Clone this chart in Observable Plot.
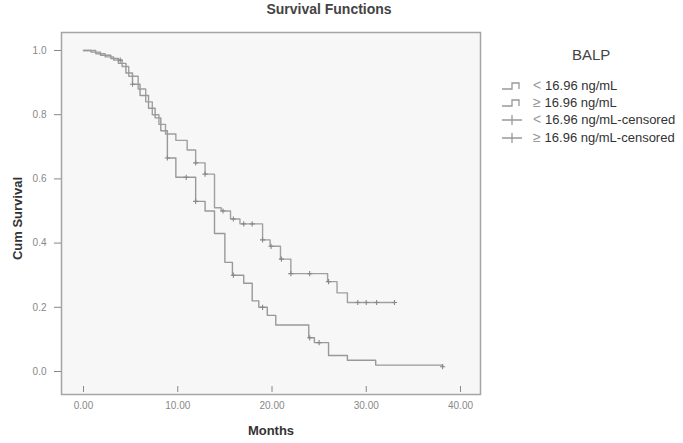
<!DOCTYPE html>
<html><head><meta charset="utf-8">
<script src="https://cdn.jsdelivr.net/npm/d3@7"></script>
<script src="https://cdn.jsdelivr.net/npm/@observablehq/plot@0.6"></script>
<style>
body{margin:0;background:#fff;font-family:"Liberation Sans",Arial,sans-serif;}
#wrap{position:relative;width:683px;height:443px;overflow:hidden;}
#title{position:absolute;left:13px;width:632px;top:0;text-align:center;font-weight:bold;font-size:14px;color:#444;line-height:18px;}
#legend{position:absolute;left:0;top:0;width:683px;height:443px;pointer-events:none;}
.lt{position:absolute;font-size:13px;color:#333;white-space:nowrap;line-height:15px;}
.lt .op{color:#999;font-size:14px;}
#balp{position:absolute;left:572px;top:47px;font-size:15px;color:#444;line-height:16px;}
#chart{position:absolute;left:0;top:0;}
</style></head>
<body>
<div id="wrap">
  <div id="chart"></div>
  <div id="title">Survival Functions</div>
  <div id="legend"></div>
</div>
<script>
// Group "< 16.96 ng/mL" (upper curve)
const timeA = [0, 1.3, 2.3, 3.2, 4.1, 4.8, 5.8, 6.6, 7.3, 8.0, 8.7, 9.8, 11.0, 11.9, 12.9, 13.9, 14.6, 15.6, 16.6, 19.0, 19.8, 20.9, 22.0, 25.9, 26.9, 28.0, 33.0];
const survA = [1.0, 0.99, 0.98, 0.97, 0.95, 0.92, 0.88, 0.84, 0.80, 0.77, 0.74, 0.72, 0.69, 0.65, 0.615, 0.51, 0.50, 0.475, 0.46, 0.41, 0.39, 0.35, 0.305, 0.28, 0.245, 0.215, 0.215];
const censorTimeA = [3.9, 11.9, 12.9, 14.8, 15.9, 17.0, 17.9, 19.0, 19.9, 21.0, 22.0, 24.0, 26.0, 29.1, 30.0, 31.1, 33.0];
// Group "≥ 16.96 ng/mL" (lower curve)
const timeB = [0, 0.8, 1.8, 2.9, 3.7, 4.5, 5.2, 6.0, 6.9, 7.6, 8.2, 8.9, 9.8, 11.9, 12.9, 13.9, 15.0, 15.8, 17.0, 17.9, 18.6, 19.5, 20.4, 23.9, 24.5, 26.0, 28.0, 31.0, 38.1];
const survB = [1.0, 0.995, 0.985, 0.975, 0.96, 0.93, 0.895, 0.86, 0.82, 0.79, 0.75, 0.665, 0.605, 0.53, 0.50, 0.43, 0.34, 0.30, 0.275, 0.22, 0.20, 0.175, 0.145, 0.105, 0.09, 0.05, 0.035, 0.02, 0.015];
const censorTimeB = [5.2, 8.9, 10.9, 11.9, 15.9, 19.0, 24.0, 25.0, 38.1];

const xTicks = [0, 10, 20, 30, 40];
const yTicks = [0, 0.2, 0.4, 0.6, 0.8, 1.0];
const groups = ["< 16.96 ng/mL", "≥ 16.96 ng/mL"];

function stepAt(times, surv, t) {
  let v = surv[0];
  for (let i = 0; i < times.length; i++) if (times[i] <= t) v = surv[i];
  return v;
}
const lineA = timeA.map((t, i) => ({t, s: survA[i]}));
const lineB = timeB.map((t, i) => ({t, s: survB[i]}));
const censA = censorTimeA.map(t => ({t, s: stepAt(timeA, survA, t)}));
const censB = censorTimeB.map(t => ({t, s: stepAt(timeB, survB, t)}));

const chart = Plot.plot({
  width: 683, height: 443,
  marginLeft: 61, marginRight: 203, marginTop: 32, marginBottom: 57,
  style: {background: "transparent", fontFamily: "Liberation Sans, Arial, sans-serif", fontSize: "10px", color: "#888"},
  x: {domain: [0, 40], range: [83, 460]},
  y: {domain: [0, 1], range: [371, 50]},
  marks: [
    Plot.frame({fill: "#f7f7f7", stroke: "#a5a5a5", strokeWidth: 1.5, insetBottom: -8}),
    Plot.axisX({ticks: xTicks, tickFormat: d => d.toFixed(2), tickSize: 6, tickPadding: 9, label: null}),
    Plot.axisY({ticks: yTicks, tickFormat: d => d.toFixed(1), tickSize: 7, tickPadding: 8, label: null}),
    Plot.line(lineA, {x: "t", y: "s", curve: "step-after", stroke: "#a0a0a0", strokeWidth: 1.4}),
    Plot.line(lineB, {x: "t", y: "s", curve: "step-after", stroke: "#999", strokeWidth: 1.4}),
    Plot.dot(censA, {x: "t", y: "s", symbol: "plus", r: 1.8, stroke: "#888", strokeWidth: 1.1}),
    Plot.dot(censB, {x: "t", y: "s", symbol: "plus", r: 1.8, stroke: "#888", strokeWidth: 1.1}),
    Plot.text(["Cum Survival"], {frameAnchor: "left", textAnchor: "middle", dx: -44, dy: 9, rotate: -90, fill: "#333", fontWeight: "bold", fontSize: 13}),
    Plot.text(["Months"], {frameAnchor: "bottom", dy: 48, fill: "#333", fontWeight: "bold", fontSize: 13})
  ]
});
document.getElementById("chart").append(chart);

// legend
const leg = document.getElementById("legend");
const balp = document.createElement("div");
balp.id = "balp"; balp.textContent = "BALP";
leg.append(balp);
const rows = [
  {label: groups[0], censored: false},
  {label: groups[1], censored: false},
  {label: groups[0] + "-censored", censored: true},
  {label: groups[1] + "-censored", censored: true}
];
const rowY = [86, 103, 120, 138];
rows.forEach((r, i) => {
  const y = rowY[i];
  const svgNS = "http://www.w3.org/2000/svg";
  const s = document.createElementNS(svgNS, "svg");
  s.setAttribute("width", 24); s.setAttribute("height", 14);
  s.style.position = "absolute"; s.style.left = "500px"; s.style.top = (y - 7) + "px";
  const p = document.createElementNS(svgNS, "path");
  p.setAttribute("d", r.censored ? "M2,7H22M12,2V12" : "M2,10H12V4H19V10");
  p.setAttribute("fill", "none"); p.setAttribute("stroke", "#999"); p.setAttribute("stroke-width", "1.3");
  s.append(p); leg.append(s);
  const t = document.createElement("div");
  t.className = "lt";
  t.style.left = "533px"; t.style.top = (y - 8) + "px";
  const op = r.label.slice(0, 1);
  const op_el = document.createElement("span"); op_el.className = "op"; op_el.textContent = op + " ";
  t.append(op_el, document.createTextNode(r.label.slice(2)));
  leg.append(t);
});
</script>
</body></html>
